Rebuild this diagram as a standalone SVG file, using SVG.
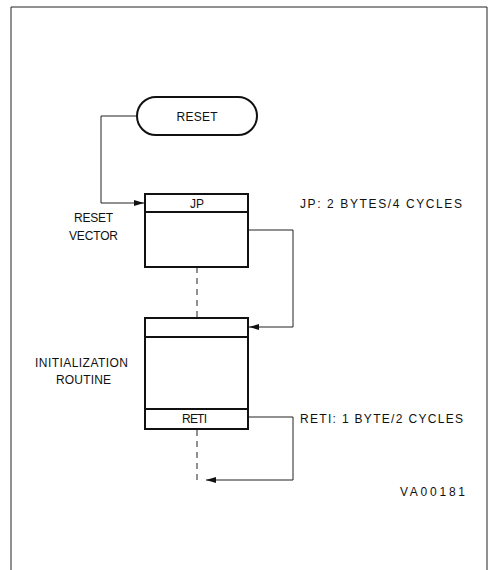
<svg xmlns="http://www.w3.org/2000/svg" width="493" height="570" viewBox="0 0 493 570">
<style>
text{font-family:"Liberation Sans",Arial,sans-serif;font-size:12px;fill:#111}
.box{fill:#fff;stroke:#111;stroke-width:2}
.hl{stroke:#111;stroke-width:2;fill:none}
.ln{stroke:#222;stroke-width:1;fill:none}
.dash{stroke:#222;stroke-width:1;fill:none;stroke-dasharray:6,5}
</style>
<defs>
<marker id="ah" viewBox="0 0 10 6" refX="10" refY="3" markerWidth="10" markerHeight="6" markerUnits="userSpaceOnUse" orient="auto">
<path d="M0,0 L10,3 L0,6 Z" fill="#111"/>
</marker>
</defs>
<rect width="493" height="570" fill="#fff"/>
<path d="M11,570 V7 H487 V570" class="ln"/>
<g id="connectors">
<path d="M137,116 H101 V203 H144" class="ln" marker-end="url(#ah)"/>
<path d="M248,230 H293 V327 H249" class="ln" marker-end="url(#ah)"/>
<path d="M248,417 H293 V480 H206" class="ln" marker-end="url(#ah)"/>
<path d="M197,267 V318" class="dash"/>
<path d="M197,430 V482" class="dash"/>
</g>
<g id="reset">
<rect x="137" y="97" width="120" height="38" rx="19" ry="19" class="box"/>
<text x="197" y="121" text-anchor="middle" textLength="41" lengthAdjust="spacing">RESET</text>
</g>
<g id="reset-vector">
<rect x="145" y="194" width="103" height="73" class="box"/>
<line x1="145" y1="212" x2="248" y2="212" class="hl"/>
<text x="197" y="208" text-anchor="middle">JP</text>
<text x="74" y="222" textLength="39" lengthAdjust="spacing">RESET</text>
<text x="69" y="240" textLength="49" lengthAdjust="spacing">VECTOR</text>
<text x="300" y="208" textLength="162" lengthAdjust="spacing">JP:  2 BYTES/4 CYCLES</text>
</g>
<g id="init-routine">
<rect x="145" y="318" width="103" height="111" class="box"/>
<line x1="145" y1="337" x2="248" y2="337" class="hl"/>
<line x1="145" y1="409" x2="248" y2="409" class="hl"/>
<text x="182" y="423" textLength="25" lengthAdjust="spacing">RETI</text>
<text x="35" y="367" textLength="93" lengthAdjust="spacing">INITIALIZATION</text>
<text x="56" y="384" textLength="55" lengthAdjust="spacing">ROUTINE</text>
<text x="300" y="423" textLength="163" lengthAdjust="spacing">RETI:  1 BYTE/2 CYCLES</text>
</g>
<text x="400" y="496" textLength="65" lengthAdjust="spacing">VA00181</text>
</svg>
